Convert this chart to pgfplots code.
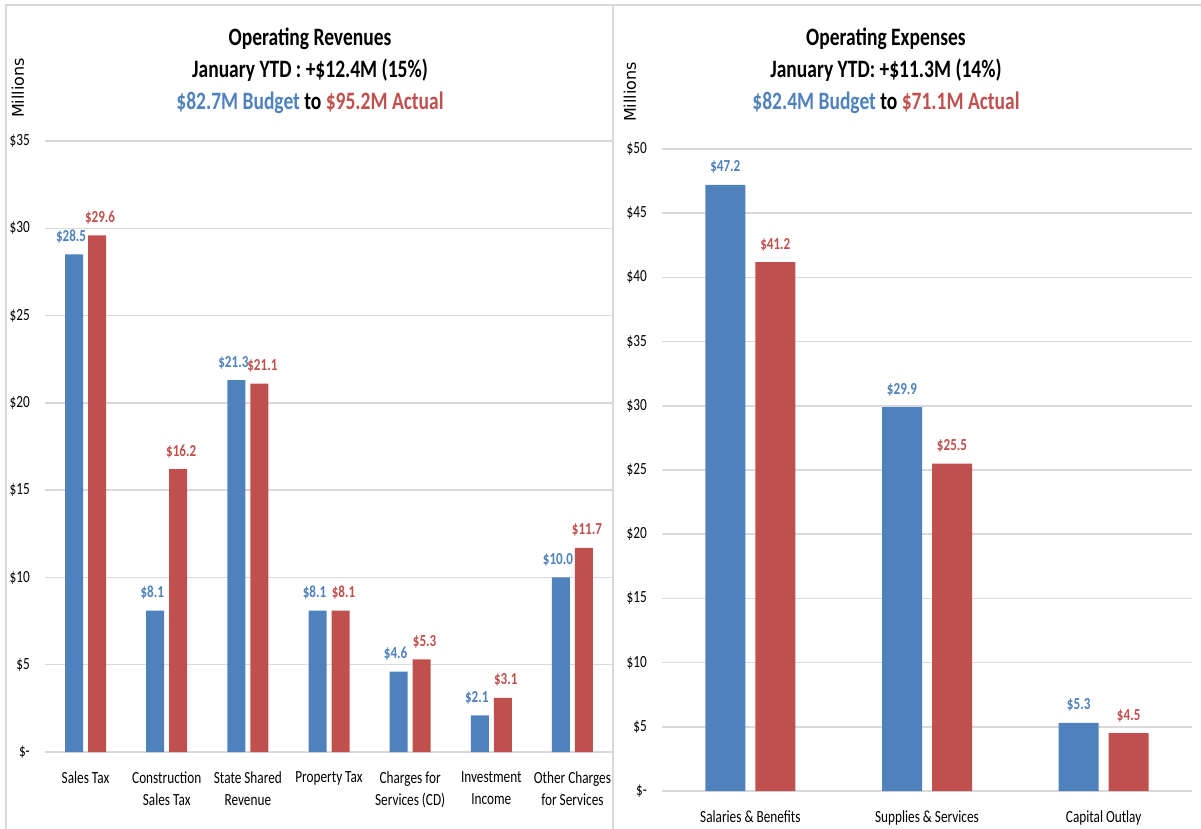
\documentclass[border=0pt]{standalone}
\usepackage{fontspec}
\setmainfont{Carlito}[FakeStretch=0.78]
\newfontfamily\milfont{DejaVu Sans}
\usepackage{pgfplots}
\pgfplotsset{compat=1.18}
\definecolor{budget}{HTML}{4F81BD}
\definecolor{actual}{HTML}{C0504D}
\definecolor{gridgray}{HTML}{D9D9D9}

\pgfplotsset{
  finstyle/.style={
    scale only axis,
    axis line style={draw=none},
    major tick style={draw=none},
    ymajorgrids,
    grid style={gridgray, line width=1.5bp},
    ymin=0,
    xtick=data,
    tick label style={font=\fontsize{17bp}{22bp}\selectfont},
    yticklabel style={anchor=east, inner sep=0pt, xshift=-15bp},
    xticklabel style={anchor=north, align=center, inner sep=0pt, yshift=-15bp},
    nodes near coords={\$\pgfmathprintnumber[fixed, fixed zerofill, precision=1, assume math mode=true]{\pgfplotspointmeta}},
    nodes near coords style={font=\bfseries\fontsize{16.8bp}{20bp}\selectfont, anchor=south, inner sep=0pt, yshift=11bp},
  }
}

\begin{document}
\begin{tikzpicture}
\path[use as bounding box] (0,0) rectangle (1201bp,-829bp);

% panel frames
\draw[gridgray, line width=2bp] (6bp,-829bp) -- (6bp,-5bp) -- (1201bp,-5bp);
\draw[gridgray, line width=2bp] (613bp,-5bp) -- (613bp,-829bp);

% titles
\node[font=\bfseries\fontsize{25bp}{32bp}\selectfont, align=center] at (310bp,-71bp)
  {Operating Revenues\\January YTD : +\$12.4M (15\%)\\\textcolor{budget}{\$82.7M Budget} to \textcolor{actual}{\$95.2M Actual}};
\node[font=\bfseries\fontsize{25bp}{32bp}\selectfont, align=center] at (886bp,-71bp)
  {Operating Expenses\\January YTD: +\$11.3M (14\%)\\\textcolor{budget}{\$82.4M Budget} to \textcolor{actual}{\$71.1M Actual}};

\node[rotate=90, font=\milfont\fontsize{16bp}{18bp}\selectfont] at (18bp,-88bp) {Millions};
\node[rotate=90, font=\milfont\fontsize{16bp}{18bp}\selectfont] at (630bp,-92bp) {Millions};

% revenues
\begin{axis}[finstyle,
  at={(45bp,-752bp)}, anchor=south west,
  width=568bp, height=611bp,
  ybar=5bp, bar width=18bp,
  xmin=-0.5, xmax=6.5, ymax=35,
  ytick={0,5,...,35},
  yticklabels={\$-,\$5,\$10,\$15,\$20,\$25,\$30,\$35},
  xticklabels={Sales Tax,{Construction\\Sales Tax},{State Shared\\Revenue},Property Tax,{Charges for\\Services (CD)},{Investment\\Income},{Other Charges\\for Services}},
]
\addplot[fill=budget, draw=none, nodes near coords style={text=budget, xshift=-3bp}] coordinates
  {(0,28.5) (1,8.1) (2,21.3) (3,8.1) (4,4.6) (5,2.1) (6,10.0)};
\addplot[fill=actual, draw=none, nodes near coords style={text=actual, xshift=3bp}] coordinates
  {(0,29.6) (1,16.2) (2,21.1) (3,8.1) (4,5.3) (5,3.1) (6,11.7)};
\end{axis}

% expenses
\begin{axis}[finstyle,
  at={(662bp,-791bp)}, anchor=south west,
  width=530bp, height=642bp,
  ybar=10bp, bar width=40bp,
  xmin=-0.5, xmax=2.5, ymax=50,
  ytick={0,5,...,50},
  yticklabels={\$-,\$5,\$10,\$15,\$20,\$25,\$30,\$35,\$40,\$45,\$50},
  xticklabels={Salaries \& Benefits,Supplies \& Services,Capital Outlay},
]
\addplot[fill=budget, draw=none, nodes near coords style={text=budget}] coordinates
  {(0,47.2) (1,29.9) (2,5.3)};
\addplot[fill=actual, draw=none, nodes near coords style={text=actual}] coordinates
  {(0,41.2) (1,25.5) (2,4.5)};
\end{axis}
\end{tikzpicture}
\end{document}
